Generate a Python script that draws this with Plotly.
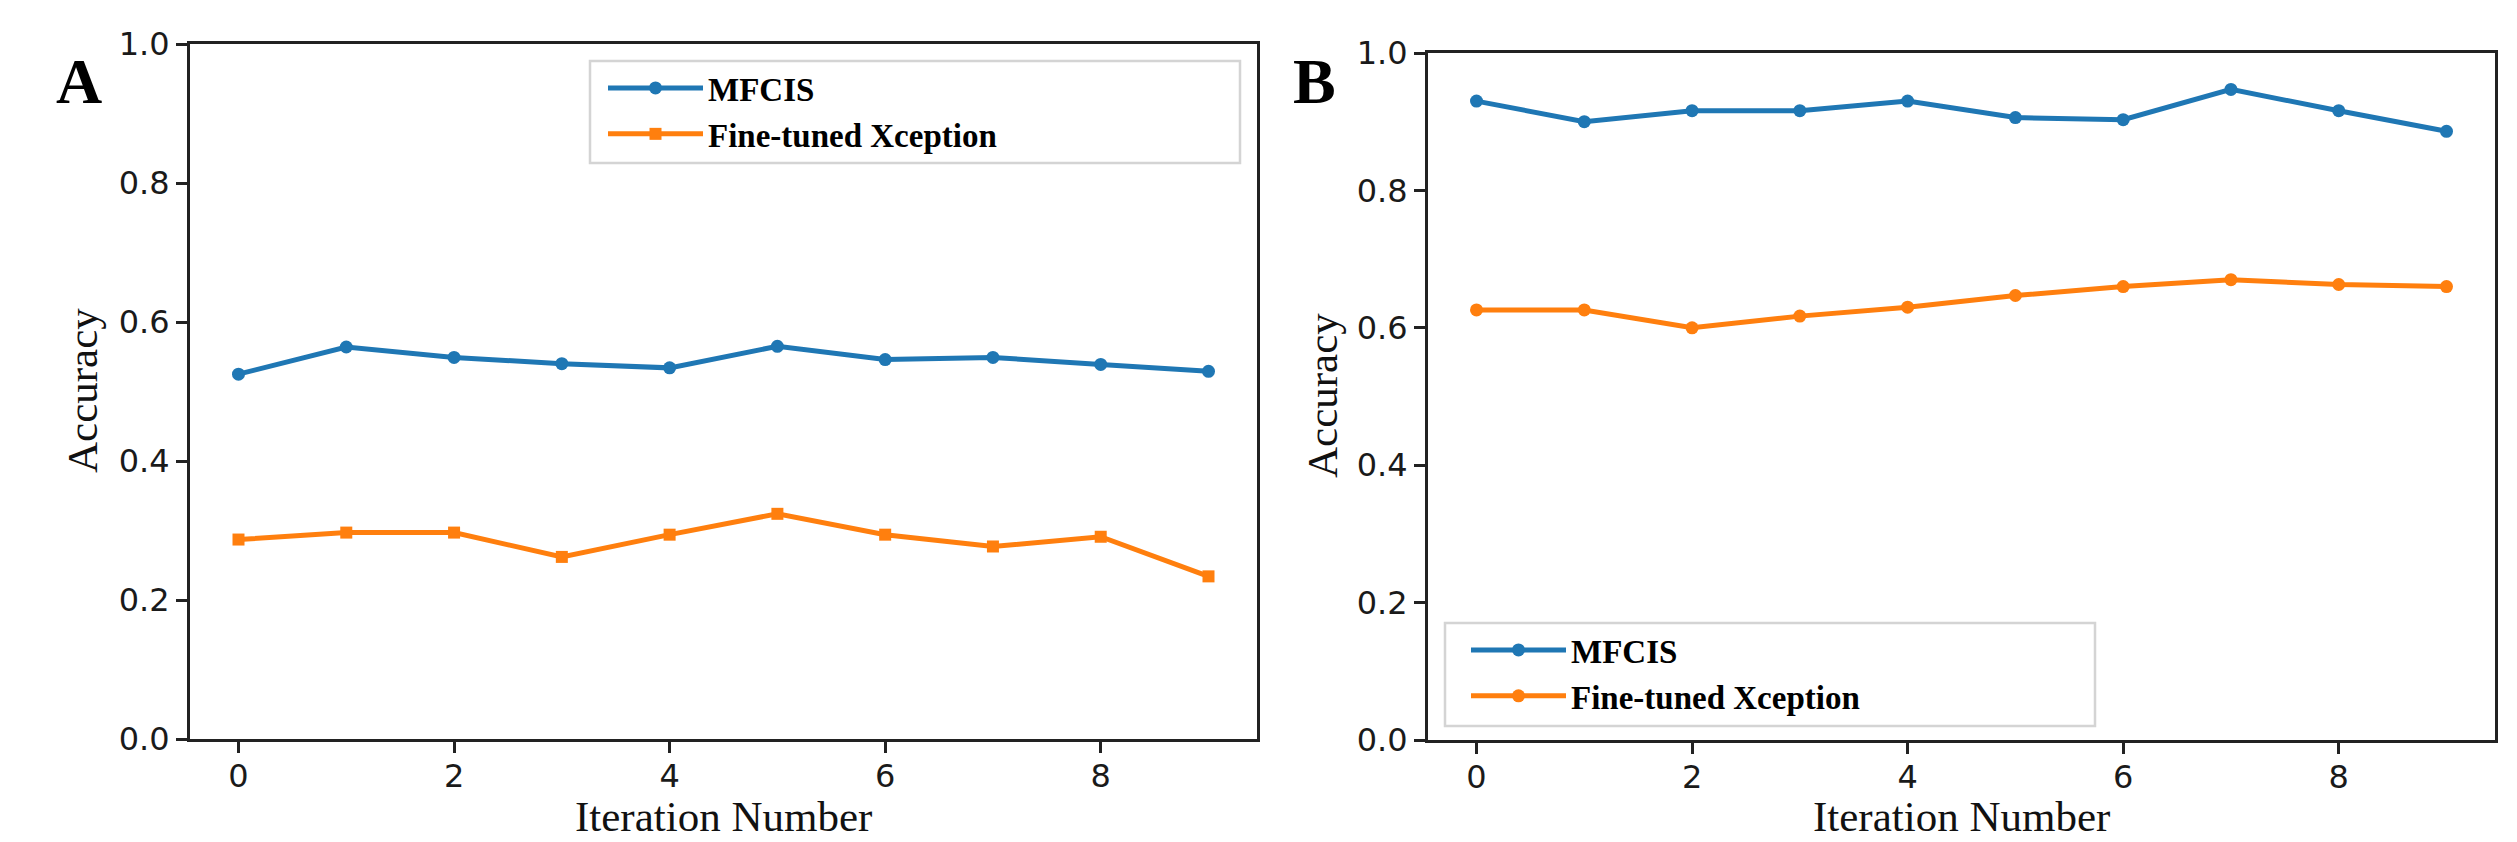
import plotly.graph_objects as go

iterations = list(range(10))
mfcis_a = [0.525, 0.564, 0.549, 0.540, 0.534, 0.565, 0.546, 0.549, 0.539, 0.529]
xception_a = [0.287, 0.297, 0.297, 0.262, 0.294, 0.324, 0.294, 0.277, 0.291, 0.234]
mfcis_b = [0.930, 0.900, 0.916, 0.916, 0.930, 0.906, 0.903, 0.947, 0.916, 0.886]
xception_b = [0.626, 0.626, 0.600, 0.617, 0.630, 0.647, 0.660, 0.670, 0.663, 0.660]
y_ticks = [0.0, 0.2, 0.4, 0.6, 0.8, 1.0]
x_ticks = [0, 2, 4, 6, 8]

W, H = 2517, 842
BLUE = "#1f77b4"
ORANGE = "#ff7f0e"

def px_x(p):
    return p / W

def px_y(p):
    return 1 - p / H

fig = go.Figure()

fig.add_trace(go.Scatter(x=iterations, y=mfcis_a, name="MFCIS", mode="lines+markers",
                         line=dict(color=BLUE, width=5), marker=dict(symbol="circle", size=13, color=BLUE),
                         xaxis="x", yaxis="y", legend="legend"))
fig.add_trace(go.Scatter(x=iterations, y=xception_a, name="Fine-tuned Xception", mode="lines+markers",
                         line=dict(color=ORANGE, width=5), marker=dict(symbol="square", size=12, color=ORANGE),
                         xaxis="x", yaxis="y", legend="legend"))
fig.add_trace(go.Scatter(x=iterations, y=mfcis_b, name="MFCIS", mode="lines+markers",
                         line=dict(color=BLUE, width=5), marker=dict(symbol="circle", size=13, color=BLUE),
                         xaxis="x2", yaxis="y2", legend="legend2"))
fig.add_trace(go.Scatter(x=iterations, y=xception_b, name="Fine-tuned Xception", mode="lines+markers",
                         line=dict(color=ORANGE, width=5), marker=dict(symbol="circle", size=13, color=ORANGE),
                         xaxis="x2", yaxis="y2", legend="legend2"))

tickfont = dict(family="DejaVu Sans", size=32, color="#1a1a1a")
axis_common = dict(showgrid=False, zeroline=False, showline=True, linecolor="#222222", linewidth=3,
                   mirror=True, ticks="outside", ticklen=11, tickwidth=2.5, tickcolor="#222222",
                   tickfont=tickfont, automargin=False)

legend_font = dict(family="Liberation Serif", size=33, color="black", weight="bold")

fig.update_layout(
    width=W, height=H,
    margin=dict(l=0, r=0, t=0, b=0, pad=0),
    paper_bgcolor="white", plot_bgcolor="white",
    xaxis=dict(domain=[px_x(190), px_x(1257)], range=[-0.45, 9.45], tickvals=x_ticks,
               anchor="y", ticklabelstandoff=-4, **axis_common),
    yaxis=dict(domain=[px_y(739), px_y(44)], range=[0, 1], tickvals=y_ticks, tickformat=".1f",
               anchor="x", **axis_common),
    xaxis2=dict(domain=[px_x(1428), px_x(2495)], range=[-0.45, 9.45], tickvals=x_ticks,
                anchor="y2", ticklabelstandoff=-4, **axis_common),
    yaxis2=dict(domain=[px_y(740), px_y(53)], range=[0, 1], tickvals=y_ticks, tickformat=".1f",
                anchor="x2", **axis_common),
    legend=dict(x=px_x(603), y=px_y(60), xanchor="left", yanchor="top",
                bgcolor="rgba(0,0,0,0)", borderwidth=0, itemwidth=95,
                font=legend_font, tracegroupgap=0),
    legend2=dict(x=px_x(1466), y=px_y(622), xanchor="left", yanchor="top",
                 bgcolor="rgba(0,0,0,0)", borderwidth=0, itemwidth=95,
                 font=legend_font, tracegroupgap=0),
    showlegend=True,
)

# legend frames
fig.add_shape(type="rect", xref="paper", yref="paper", x0=px_x(590), x1=px_x(1240),
              y0=px_y(163), y1=px_y(61), line=dict(color="#d4d4d4", width=2.5), layer="below")
fig.add_shape(type="rect", xref="paper", yref="paper", x0=px_x(1445), x1=px_x(2095),
              y0=px_y(726), y1=px_y(623), line=dict(color="#d4d4d4", width=2.5), layer="below")

title_font = dict(family="Liberation Serif", size=43, color="#111111")
for xc in [(px_x(190) + px_x(1257)) / 2, (px_x(1428) + px_x(2495)) / 2]:
    fig.add_annotation(text="Iteration Number", x=xc, y=0, xref="paper", yref="paper",
                       showarrow=False, font=title_font, xanchor="center", yanchor="bottom")
fig.add_annotation(text="Accuracy", x=px_x(82), y=px_y(391), xref="paper", yref="paper",
                   showarrow=False, font=title_font, textangle=-90, xanchor="center", yanchor="middle")
fig.add_annotation(text="Accuracy", x=px_x(1322), y=px_y(396), xref="paper", yref="paper",
                   showarrow=False, font=title_font, textangle=-90, xanchor="center", yanchor="middle")

panel_font = dict(family="Liberation Serif", size=64, color="black", weight="bold")
fig.add_annotation(text="A", x=px_x(79), y=px_y(82), xref="paper", yref="paper",
                   showarrow=False, font=panel_font, xanchor="center", yanchor="middle")
fig.add_annotation(text="B", x=px_x(1314), y=px_y(82), xref="paper", yref="paper",
                   showarrow=False, font=panel_font, xanchor="center", yanchor="middle")

fig.write_html("out.html")
